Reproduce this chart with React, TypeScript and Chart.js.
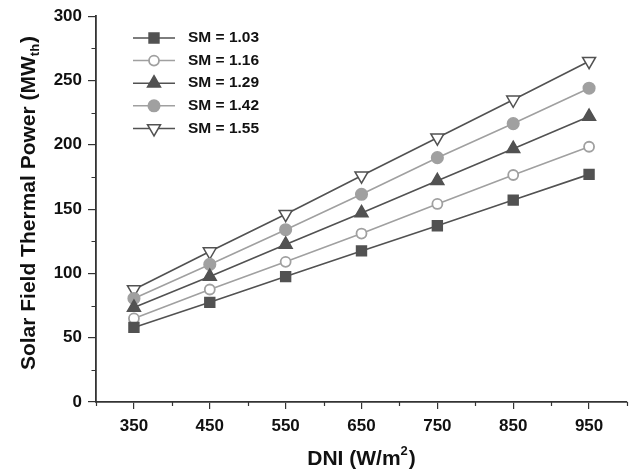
import React, { useEffect, useRef } from "react";
import { Chart, registerables } from "chart.js";
import { drawPoint } from "chart.js/helpers";

Chart.register(...registerables);

const dni = [350, 450, 550, 650, 750, 850, 950];
const sm103 = [58, 77.5, 97.5, 117.5, 137, 157, 177];
const sm116 = [65, 87.5, 109, 131, 154, 176.5, 198.5];
const sm129 = [73.5, 97.5, 122.5, 147, 172, 197, 222];
const sm142 = [80.5, 107, 134, 161.5, 190, 216.5, 244];
const sm155 = [87.5, 117, 146, 176, 205.5, 235, 265];
const seriesLabels = ["SM = 1.03", "SM = 1.16", "SM = 1.29", "SM = 1.42", "SM = 1.55"];

const DARK = "#525252";
const LIGHT = "#a0a0a0";
const AXIS = "#333333";
const FONT = "'Liberation Sans', Arial, sans-serif";

const minorTicksPlugin = {
  id: "minorTicks",
  afterDraw(chart: any) {
    const ctx = chart.ctx as CanvasRenderingContext2D;
    const xs = chart.scales.x;
    const ys = chart.scales.y;
    ctx.save();
    ctx.strokeStyle = AXIS;
    ctx.lineWidth = 1.2;
    ctx.beginPath();
    xs.ticks.forEach((t: any) => {
      if (t.value % 100 !== 50) {
        const px = Math.round(xs.getPixelForValue(t.value)) + 0.5;
        ctx.moveTo(px, xs.top);
        ctx.lineTo(px, xs.top + 4);
      }
    });
    ys.ticks.forEach((t: any) => {
      if (t.value % 50 !== 0) {
        const py = Math.round(ys.getPixelForValue(t.value)) + 0.5;
        ctx.moveTo(ys.right, py);
        ctx.lineTo(ys.right - 4.5, py);
      }
    });
    ctx.stroke();
    ctx.restore();
  },
};

const titlesPlugin = {
  id: "titlesPlugin",
  afterDraw(chart: any) {
    const ctx = chart.ctx as CanvasRenderingContext2D;
    const area = chart.chartArea;
    ctx.save();
    ctx.fillStyle = "#111";
    ctx.textBaseline = "alphabetic";
    ctx.textAlign = "left";
    const big = "bold 21px " + FONT;
    const small = "bold 13px " + FONT;
    // X title
    ctx.font = big;
    const p1 = "DNI (W/m";
    const p3 = ")";
    const w1 = ctx.measureText(p1).width;
    const w3 = ctx.measureText(p3).width;
    ctx.font = small;
    const w2 = ctx.measureText("2").width + 1;
    const total = w1 + w2 + w3;
    const cx = (area.left + area.right) / 2;
    const x = cx - total / 2;
    const y = 465;
    ctx.font = big;
    ctx.fillText(p1, x, y);
    ctx.font = small;
    ctx.fillText("2", x + w1, y - 10);
    ctx.font = big;
    ctx.fillText(p3, x + w1 + w2, y);

    // Y title
    ctx.translate(35, 203);
    ctx.rotate(-Math.PI / 2);
    const q1 = "Solar Field Thermal Power (MW";
    const q2 = "th";
    const q3 = ")";
    ctx.font = big;
    const a1 = ctx.measureText(q1).width;
    const a3 = ctx.measureText(q3).width;
    ctx.font = small;
    const a2 = ctx.measureText(q2).width + 1;
    const tot = a1 + a2 + a3;
    const sx = -tot / 2;
    ctx.font = big;
    ctx.fillText(q1, sx, 0);
    ctx.font = small;
    ctx.fillText(q2, sx + a1, 4);
    ctx.font = big;
    ctx.fillText(q3, sx + a1 + a2, 0);
    ctx.restore();

    // Legend
    ctx.save();
    chart.data.datasets.forEach((ds: any, i: number) => {
      const ly = 38 + i * 22.6;
      ctx.strokeStyle = ds.borderColor;
      ctx.lineWidth = 1.5;
      ctx.beginPath();
      ctx.moveTo(133, ly);
      ctx.lineTo(175, ly);
      ctx.stroke();
      ctx.fillStyle = ds.pointBackgroundColor;
      ctx.strokeStyle = ds.pointBorderColor;
      ctx.lineWidth = ds.pointBorderWidth;
      drawPoint(
        ctx,
        { pointStyle: ds.pointStyle, rotation: ds.pointRotation || 0, radius: ds.pointRadius, borderWidth: ds.pointBorderWidth },
        154,
        ly
      );
      ctx.fillStyle = "#111";
      ctx.font = "bold 15.5px " + FONT;
      ctx.textAlign = "left";
      ctx.textBaseline = "middle";
      ctx.fillText(ds.label, 188, ly);
    });
    ctx.restore();
  },
};

export default function App() {
  const ref = useRef<HTMLCanvasElement>(null);
  useEffect(() => {
    document.body.style.margin = "0";
    const toPts = (arr: number[]) => dni.map((d, i) => ({ x: d, y: arr[i] }));
    const mk = (label: string, arr: number[], color: string, style: string, fill: string, rot: number, r: number, bw: number) => ({
      label,
      data: toPts(arr),
      borderColor: color,
      backgroundColor: fill,
      borderWidth: 1.6,
      pointStyle: style,
      pointRotation: rot,
      pointRadius: r,
      pointBackgroundColor: fill,
      pointBorderColor: color,
      pointBorderWidth: bw,
      showLine: true,
      fill: false,
      tension: 0,
    });
    const chart = new Chart(ref.current!, {
      type: "scatter",
      data: {
        datasets: [
          mk(seriesLabels[0], sm103, DARK, "rect", DARK, 0, 7, 1.5),
          mk(seriesLabels[1], sm116, LIGHT, "circle", "#ffffff", 0, 5, 1.8),
          mk(seriesLabels[2], sm129, DARK, "triangle", DARK, 0, 7.5, 1.5),
          mk(seriesLabels[3], sm142, LIGHT, "circle", LIGHT, 0, 5.8, 1.5),
          mk(seriesLabels[4], sm155, DARK, "triangle", "#ffffff", 180, 7.5, 1.5),
        ] as any,
      },
      options: {
        animation: false,
        responsive: false,
        layout: { padding: { left: 0, right: 4, top: 15, bottom: 0 } },
        plugins: { legend: { display: false }, tooltip: { enabled: false } },
        scales: {
          x: {
            type: "linear",
            min: 300,
            max: 1000,
            afterFit: (s: any) => { s.height = 71; },
            border: { display: true, color: AXIS, width: 1.8 },
            grid: {
              drawOnChartArea: false,
              drawTicks: true,
              tickLength: 7,
              lineWidth: 1.2,
              color: (c: any) => (c.tick && c.tick.value % 100 === 50 ? AXIS : "rgba(0,0,0,0)"),
            },
            ticks: {
              stepSize: 50,
              padding: 7,
              maxRotation: 0,
              autoSkip: false,
              color: "#111",
              font: { family: FONT, size: 17, weight: "bold" },
              callback: (v: any) => (Number(v) % 100 === 50 ? String(v) : ""),
            },
          },
          y: {
            type: "linear",
            min: 0,
            max: 300,
            afterFit: (s: any) => { s.width = 96; },
            border: { display: true, color: AXIS, width: 1.8 },
            grid: {
              drawOnChartArea: false,
              drawTicks: true,
              tickLength: 8,
              lineWidth: 1.2,
              color: (c: any) => (c.tick && c.tick.value % 50 === 0 ? AXIS : "rgba(0,0,0,0)"),
            },
            ticks: {
              stepSize: 25,
              padding: 6,
              autoSkip: false,
              color: "#111",
              font: { family: FONT, size: 17, weight: "bold" },
              callback: (v: any) => (Number(v) % 50 === 0 ? String(v) : ""),
            },
          },
        },
      } as any,
      plugins: [minorTicksPlugin, titlesPlugin],
    });
    return () => chart.destroy();
  }, []);
  return <canvas ref={ref} width={636} height={473} style={{ display: "block" }} />;
}
